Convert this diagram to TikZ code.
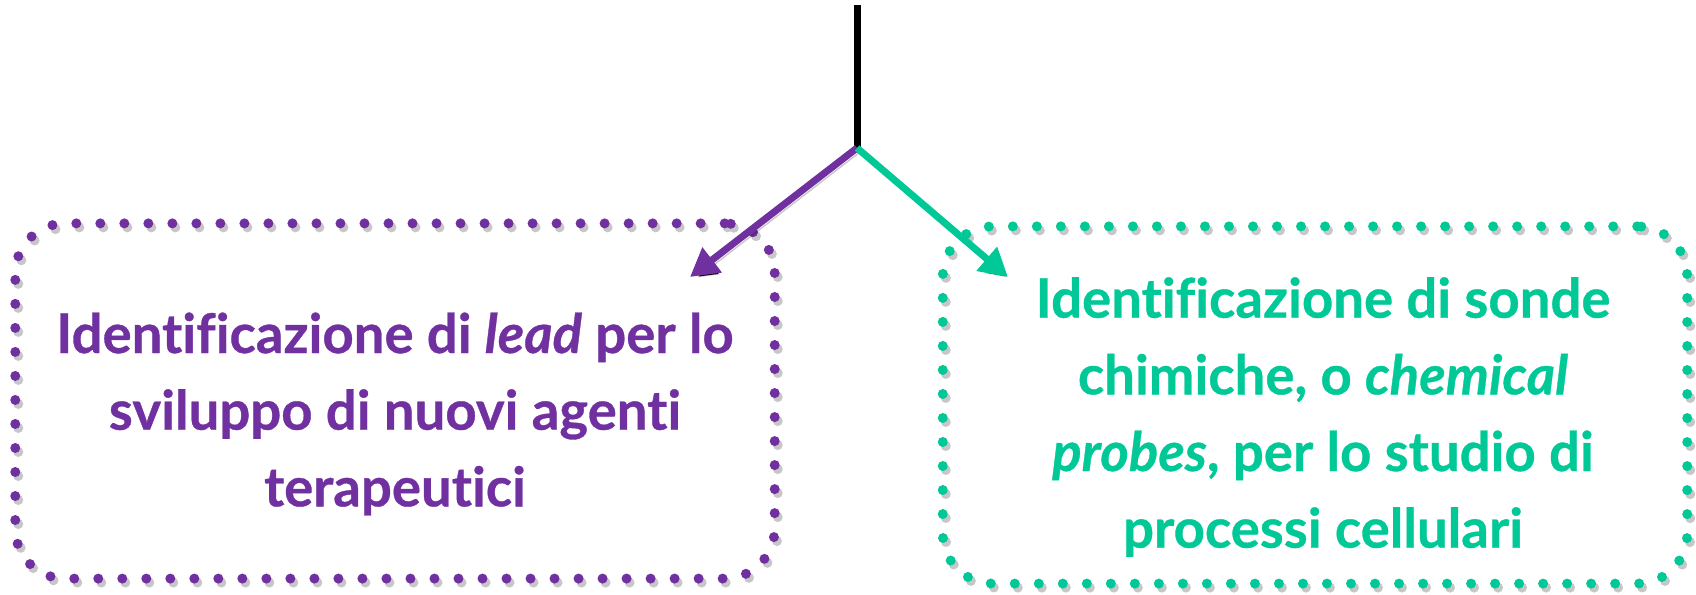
\documentclass[tikz,border=0pt]{standalone}
\usepackage{fontspec}
\usetikzlibrary{arrows.meta}
\setmainfont{Lato}[Ligatures=NoCommon, BoldFeatures={FakeBold=0.6}, BoldItalicFeatures={FakeBold=0.6}]
\definecolor{leadpurple}{HTML}{7030A0}
\definecolor{probegreen}{HTML}{00C896}
\tikzset{
  shade off/.style={preaction={draw=black, draw opacity=.22, transform canvas={shift={(3,4)}}}},
  dotbox/.style={draw=#1, line width=1mm, line cap=round,
    dash pattern=on 0pt off 2.4mm, rounded corners=5mm, inner sep=0pt, shade off},
  boxtext/.style={text=#1, align=center, font=\bfseries\fontsize{15.5}{21.8}\selectfont},
  branch/.style={draw=#1, line width=0.7mm, -{Triangle[length=2.8mm,width=3mm]}, shade off}
}

\begin{document}
\begin{tikzpicture}[x=0.01cm, y=-0.01cm]
  \useasboundingbox (0,0) rectangle (1696,595);

  \node[dotbox=leadpurple, minimum width=7.59cm, minimum height=3.55cm] (leadbox) at (395,401) {};
  \node[dotbox=probegreen, minimum width=7.44cm, minimum height=3.57cm] (probebox) at (1315,405) {};

  \node[boxtext=leadpurple] (lead) at ([yshift=-0.13cm]leadbox.center)
    {Identificazione di \textit{lead} per lo\\ sviluppo di nuovi agenti\\ terapeutici};
  \node[boxtext=probegreen] (probe) at ([xshift=0.08cm, yshift=-0.12cm]probebox.center)
    {Identificazione di sonde\\ chimiche, o \textit{chemical}\\ \textit{probes}, per lo studio di\\ processi cellulari};

  \coordinate (top) at (857,5);
  \coordinate (fork) at (857,148);
  \coordinate (leadtip) at (690,277);
  \coordinate (probetip) at (1008,277);

  \draw[line width=0.7mm, shade off] (top) -- (fork);
  \draw[branch=leadpurple] (fork) -- (leadtip);
  \draw[branch=probegreen] (fork) -- (probetip);
\end{tikzpicture}
\end{document}
